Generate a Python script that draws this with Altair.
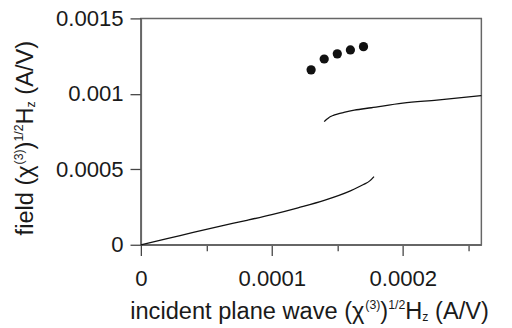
import altair as alt
import pandas as pd

# ---- data ----
dots_x = [0.00013, 0.00014, 0.00015, 0.00016, 0.00017]
dots_y = [0.001159, 0.001231, 0.001265, 0.001291, 0.001313]

lower_x = [0, 0.00002, 0.00004, 0.00006, 0.00008, 0.0001, 0.00012, 0.00014,
           0.00016, 0.00017, 0.000175, 0.000178]
lower_y = [0, 0.00004, 0.000082, 0.000122, 0.00016, 0.000200, 0.000245, 0.000294,
           0.000357, 0.000399, 0.000425, 0.000452]

upper_x = [0.00014, 0.0001415, 0.000143, 0.0001445, 0.000147, 0.00015, 0.000155,
           0.000163, 0.000176, 0.0002, 0.000226, 0.00026]
upper_y = [0.000816, 0.000828, 0.000838, 0.000848, 0.000858, 0.000866, 0.000877,
           0.000892, 0.000908, 0.000938, 0.000959, 0.000989]

x_ticks = [0, 0.00005, 0.0001, 0.00015, 0.0002, 0.00025]
y_ticks = [0, 0.00025, 0.0005, 0.00075, 0.001, 0.00125, 0.0015]

FONT = "Liberation Sans"
W, H = 346, 230
S, s = 24, 12.5

# Arial/Liberation advance widths (per 1000 em)
CW = {' ': 278, '(': 333, ')': 333, '/': 278, '1': 556, '2': 556, '3': 556,
      'A': 667, 'V': 667, 'H': 722, 'a': 556, 'c': 500, 'd': 556, 'e': 556,
      'f': 278, 'i': 222, 'l': 222, 'n': 556, 'p': 556, 't': 278, 'v': 500,
      'w': 722, 'z': 500, 'χ': 560}


def tw(t, size):
    return sum(CW.get(c, 556) for c in t) / 1000.0 * size


def pieces(parts):
    # parts: (text, kind) kind in main/sup/sub; leading spaces become offsets
    out = []
    pos = 0.0
    for t, k in parts:
        size = S if k == "main" else s
        shift = {"main": 0.0, "sup": -0.43 * S, "sub": 0.09 * S}[k]
        lead = len(t) - len(t.lstrip(" "))
        pos += tw(" " * lead, size)
        t2 = t.lstrip(" ")
        out.append((t2, size, pos, shift))
        pos += tw(t2, size)
    return out


x_title = pieces([("incident plane wave (χ", "main"), ("(3)", "sup"), (")", "main"),
                  ("1/2", "sup"), ("H", "main"), ("z", "sub"), (" (A/V)", "main")])
y_title = pieces([("field (χ", "main"), ("(3)", "sup"), (")", "main"),
                  ("1/2", "sup"), ("H", "main"), ("z", "sub"), (" (A/V)", "main")])

xscale = alt.Scale(domain=[0, 0.00026], nice=False, zero=False)
yscale = alt.Scale(domain=[0, 0.0015], nice=False, zero=False)

major_x = "abs(datum.value*10000 - round(datum.value*10000)) < 0.01"
major_y = "abs(datum.value*2000 - round(datum.value*2000)) < 0.01"

xaxis = alt.Axis(values=x_ticks, title=None, grid=False,
                 labelExpr=f"({major_x}) ? format(datum.value, '~g') : ''",
                 tickSize={"condition": {"test": major_x, "value": 11}, "value": 6},
                 labelFont=FONT, labelFontSize=22.5, labelColor="#1a1a1a",
                 labelPadding=12, domainColor="#666", domainWidth=1.5,
                 tickColor="#444", tickWidth=1.3, labelFlush=False)
yaxis = alt.Axis(values=y_ticks, title=None, grid=False,
                 labelExpr=f"({major_y}) ? format(datum.value, '~g') : ''",
                 tickSize={"condition": {"test": major_y, "value": 11}, "value": 6},
                 labelFont=FONT, labelFontSize=22.5, labelColor="#1a1a1a",
                 labelPadding=7, domainColor="#666", domainWidth=1.5,
                 tickColor="#444", tickWidth=1.3)

lower_df = pd.DataFrame({"x": lower_x, "y": lower_y})
upper_df = pd.DataFrame({"x": upper_x, "y": upper_y})
dots_df = pd.DataFrame({"x": dots_x, "y": dots_y})

lower = alt.Chart(lower_df).mark_line(color="#111", strokeWidth=1.3, interpolate="monotone").encode(
    x=alt.X("x:Q", scale=xscale, axis=xaxis),
    y=alt.Y("y:Q", scale=yscale, axis=yaxis))
upper = alt.Chart(upper_df).mark_line(color="#111", strokeWidth=1.3, interpolate="monotone").encode(
    x=alt.X("x:Q", scale=xscale), y=alt.Y("y:Q", scale=yscale))
dots = alt.Chart(dots_df).mark_circle(color="#111", size=88, opacity=1).encode(
    x=alt.X("x:Q", scale=xscale), y=alt.Y("y:Q", scale=yscale))

layers = [lower, upper, dots]

X0, XB = -10.8, 305.3   # x-title start & baseline (plot coords)
for t, size, pos, shift in x_title:
    layers.append(alt.Chart(pd.DataFrame({"t": [t]})).mark_text(
        font=FONT, fontSize=size, color="#1a1a1a", align="left", baseline="alphabetic").encode(
        x=alt.value(X0 + pos), y=alt.value(XB + shift), text="t:N"))

YX, Y0 = -109.5, 220.5  # y-title baseline x & start y (plot coords)
for t, size, pos, shift in y_title:
    layers.append(alt.Chart(pd.DataFrame({"t": [t]})).mark_text(
        font=FONT, fontSize=size, color="#1a1a1a", align="left", baseline="alphabetic",
        angle=270).encode(
        x=alt.value(YX + shift), y=alt.value(Y0 - pos), text="t:N"))

chart = alt.layer(*layers).properties(
    width=W, height=H,
    autosize=alt.AutoSizeParams(type="none"),
    padding={"left": 135, "top": 8, "right": 23, "bottom": 82},
    background="white",
).configure_view(stroke="#666", strokeWidth=1.5)

chart.save("out.html", embed_options={"renderer": "svg", "actions": False})
